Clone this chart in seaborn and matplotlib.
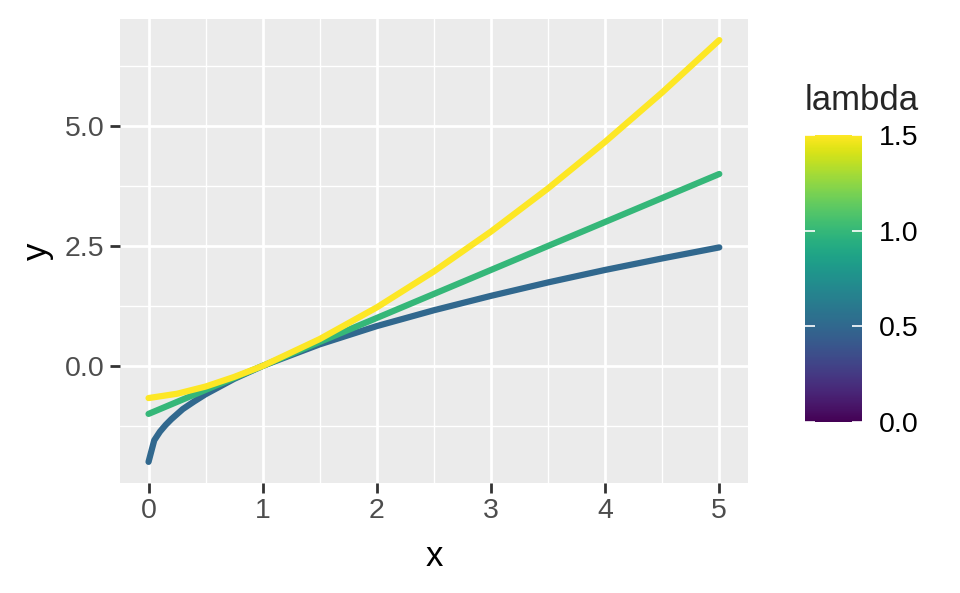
import matplotlib
matplotlib.use("Agg")
import matplotlib.pyplot as plt
import matplotlib as mpl
import seaborn as sns
import pandas as pd
import numpy as np

# values
x_half = [0, 0.05, 0.1, 0.15, 0.2, 0.3, 0.4, 0.5, 0.75, 1, 1.5, 2, 2.5, 3,
          3.5, 4, 4.5, 5]
y_half = [-2.0, -1.55, -1.37, -1.23, -1.11, -0.9, -0.74, -0.59, -0.27, 0.0,
          0.45, 0.83, 1.16, 1.46, 1.74, 2.0, 2.24, 2.47]
x_one = [0, 5]
y_one = [-1.0, 4.0]
x_three_half = [0, 0.25, 0.5, 0.75, 1, 1.5, 2, 2.5, 3, 3.5, 4, 4.5, 5]
y_three_half = [-0.67, -0.58, -0.43, -0.23, 0.0, 0.56, 1.22, 1.97, 2.8,
                3.7, 4.67, 5.7, 6.79]
lambdas = [0.5, 1.0, 1.5]

x_ticks = [0, 1, 2, 3, 4, 5]
y_ticks = [0.0, 2.5, 5.0]
cbar_ticks = [0.0, 0.5, 1.0, 1.5]

df = pd.concat([
    pd.DataFrame({"x": x_half, "y": y_half, "lambda": lambdas[0]}),
    pd.DataFrame({"x": x_one, "y": y_one, "lambda": lambdas[1]}),
    pd.DataFrame({"x": x_three_half, "y": y_three_half, "lambda": lambdas[2]}),
])

sns.set_theme(style="darkgrid")
plt.rcParams["font.family"] = ["Liberation Sans", "DejaVu Sans"]

cmap = mpl.colormaps["viridis"]
norm = mpl.colors.Normalize(vmin=0, vmax=1.5)
palette = {lam: cmap(norm(lam)) for lam in lambdas}

fig = plt.figure(figsize=(9.6, 5.93), dpi=100)
ax = fig.add_axes([0.125, 0.1855, 0.654, 0.7825])
ax.set_facecolor("#EBEBEB")

sns.lineplot(data=df, x="x", y="y", hue="lambda", palette=palette,
             linewidth=4.5, legend=False, ax=ax, sort=False)

ax.set_xlim(-0.25, 5.25)
ax.set_ylim(-2.44, 7.23)
ax.set_xticks(x_ticks)
ax.set_xticklabels([str(t) for t in x_ticks])
ax.set_yticks(y_ticks)
ax.set_yticklabels([f"{t:.1f}" for t in y_ticks])
ax.set_xticks([0.5, 1.5, 2.5, 3.5, 4.5], minor=True)
ax.set_yticks([-1.25, 1.25, 3.75, 6.25], minor=True)
ax.grid(which="major", color="white", linewidth=2.0)
ax.grid(which="minor", color="white", linewidth=1.0)
ax.set_axisbelow(True)
for s in ax.spines.values():
    s.set_visible(False)
ax.tick_params(which="major", length=7, width=2, color="#333333",
               labelsize=20.5, labelcolor="#4D4D4D", pad=4,
               bottom=True, left=True)
ax.tick_params(which="minor", length=0)
ax.set_xlabel("x", fontsize=25, color="black", labelpad=11)
ax.set_ylabel("y", fontsize=25, color="black", labelpad=8)

cax = fig.add_axes([0.8385, 0.2884, 0.0594, 0.484])
cb = fig.colorbar(mpl.cm.ScalarMappable(norm=norm, cmap=cmap), cax=cax)
cb.outline.set_visible(False)
cax.grid(False)
cb.set_ticks(cbar_ticks)
cb.set_ticklabels([f"{t:.1f}" for t in cbar_ticks])
cax.set_axisbelow(False)
cax.tick_params(left=True, right=True, direction="in", length=7, width=1.2,
                color="white", labelsize=20.5, labelcolor="black", pad=12)
fig.text(0.8385, 0.83, "lambda", fontsize=25, ha="left", va="center")

fig.savefig("out.png", dpi=100)
